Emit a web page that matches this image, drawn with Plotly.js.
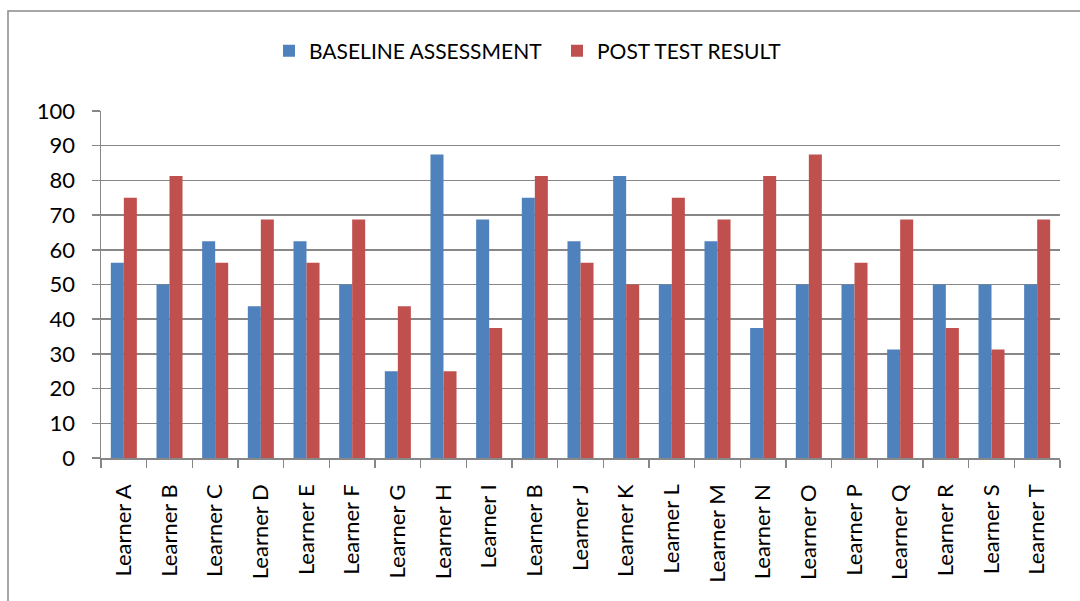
<!DOCTYPE html>
<html>
<head>
<meta charset="utf-8">
<script src="https://cdn.plot.ly/plotly-3.0.1.min.js"></script>
<style>
  html, body { margin: 0; padding: 0; background: #fff; }
  #chart { width: 1080px; height: 601px; }
</style>
</head>
<body>
<div id="chart"></div>
<script>
const categories = ["Learner A","Learner B","Learner C","Learner D","Learner E","Learner F","Learner G","Learner H","Learner I","Learner B","Learner J","Learner K","Learner L","Learner M","Learner N","Learner O","Learner P","Learner Q","Learner R","Learner S","Learner T"];
const baselineName = "BASELINE ASSESSMENT";
const postName = "POST TEST RESULT";
const baseline = [56.25, 50, 62.5, 43.75, 62.5, 50, 25, 87.5, 68.75, 75, 62.5, 81.25, 50, 62.5, 37.5, 50, 50, 31.25, 50, 50, 50];
const postTest = [75, 81.25, 56.25, 68.75, 56.25, 68.75, 43.75, 25, 37.5, 81.25, 56.25, 50, 75, 68.75, 81.25, 87.5, 56.25, 68.75, 37.5, 31.25, 68.75];
const yTicks = [0, 10, 20, 30, 40, 50, 60, 70, 80, 90, 100];

const positions = categories.map((_, i) => i);
const FONT = "Lato, 'Open Sans', sans-serif";
const GRID = "#878787";

const traces = [
  { type: "bar", name: baselineName, x: positions, y: baseline,
    marker: { color: "#4F81BD", line: { width: 0 } }, hoverinfo: "y" },
  { type: "bar", name: postName, x: positions, y: postTest,
    marker: { color: "#C0504D", line: { width: 0 } }, hoverinfo: "y" }
];

const L = 101, R = 20, T = 111, B = 143, W = 1080, H = 601;
const pw = W - L - R, ph = H - T - B;
const px = v => (v - L) / pw;
const py = v => (H - B - v) / ph;

const layout = {
  width: W, height: H, autosize: false,
  margin: { l: L, r: R, t: T, b: B, pad: 0 },
  paper_bgcolor: "#ffffff", plot_bgcolor: "#ffffff",
  font: { family: FONT, size: 22, color: "#000000" },
  barmode: "group", bargap: 0.43, bargroupgap: 0,
  showlegend: true,
  legend: {
    orientation: "h", x: px(269), xanchor: "left", y: py(51), yanchor: "middle",
    font: { family: FONT, size: 21, color: "#000000" },
    entrywidth: 243, entrywidthmode: "pixels", traceorder: "normal",
    bgcolor: "rgba(0,0,0,0)"
  },
  xaxis: {
    type: "linear", range: [-0.5, categories.length - 0.5], fixedrange: true,
    tickmode: "array", tickvals: positions, ticktext: categories,
    tickangle: -90, ticks: "", showgrid: false, zeroline: false,
    showline: true, linecolor: GRID, linewidth: 1.5,
    ticklabelstandoff: 16,
    tickfont: { family: FONT, size: 22, color: "#000000" },
    minor: { tickmode: "linear", tick0: -0.5, dtick: 1, ticks: "outside", ticklen: 8, tickwidth: 1.5, tickcolor: GRID, showgrid: false }
  },
  yaxis: {
    range: [0, 100], fixedrange: true,
    tickmode: "array", tickvals: yTicks,
    ticks: "outside", ticklen: 8, tickwidth: 1.5, tickcolor: GRID,
    showgrid: true, gridcolor: GRID, gridwidth: 1.5, zeroline: false,
    showline: true, linecolor: GRID, linewidth: 1.5,
    ticklabelstandoff: 12,
    tickfont: { family: FONT, size: 22, color: "#000000" }
  },
  shapes: [{
    type: "rect", xref: "paper", yref: "paper",
    x0: px(8), x1: px(1095), y0: py(615), y1: py(11),
    line: { color: "#8a8a8a", width: 1.5 }, fillcolor: "rgba(0,0,0,0)", layer: "below"
  }]
};

Plotly.newPlot("chart", traces, layout, { staticPlot: true, displayModeBar: false });
</script>
</body>
</html>
